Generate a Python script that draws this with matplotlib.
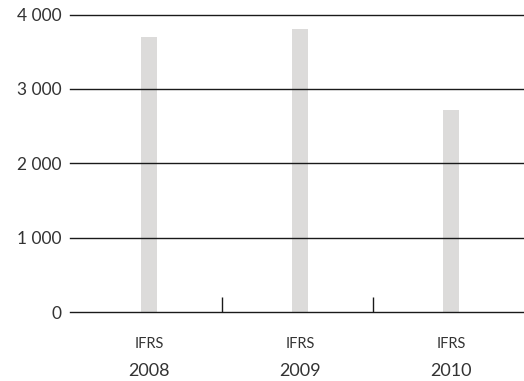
import matplotlib
matplotlib.use("Agg")
import matplotlib.pyplot as plt
from matplotlib.transforms import blended_transform_factory

# Data
years = ["2008", "2009", "2010"]
standards = ["IFRS", "IFRS", "IFRS"]
values = [3700, 3805, 2720]
yticks = [0, 1000, 2000, 3000, 4000]
ytick_labels = ["0", "1 000", "2 000", "3 000", "4 000"]

plt.rcParams["font.family"] = ["Lato", "DejaVu Sans"]

fig = plt.figure(figsize=(5.24, 3.81), dpi=100)
ax = fig.add_axes([0.1336, 0.18, 0.8664, 0.7917])

x = list(range(len(years)))
ax.bar(x, values, width=0.106, color="#dcdbda", zorder=1)

ax.set_xlim(-0.523, 2.48)
ax.set_ylim(0, 4050)

# Horizontal reference lines
for v in yticks:
    ax.axhline(v, color="#1a1a1a", lw=1.0, zorder=2, clip_on=False)

# Small separators between the year groups
ax.vlines([0.483, 1.483], 0, 210, color="#1a1a1a", lw=1.0, zorder=2)

ax.set_yticks(yticks)
ax.set_yticklabels(ytick_labels, fontsize=12.5, color="#333333")
ax.tick_params(axis="y", length=0, pad=6)
ax.set_xticks([])
for s in ax.spines.values():
    s.set_visible(False)

trans = blended_transform_factory(ax.transData, ax.transAxes)
for xi, std, yr in zip(x, standards, years):
    ax.annotate(std, (xi, 0), xycoords=trans, xytext=(0, -23),
                textcoords="offset points", ha="center", va="center",
                fontsize=10.5, color="#333333")
    ax.annotate(yr, (xi, 0), xycoords=trans, xytext=(0, -42.5),
                textcoords="offset points", ha="center", va="center",
                fontsize=13, color="#333333")

fig.savefig("out.png", dpi=100)
